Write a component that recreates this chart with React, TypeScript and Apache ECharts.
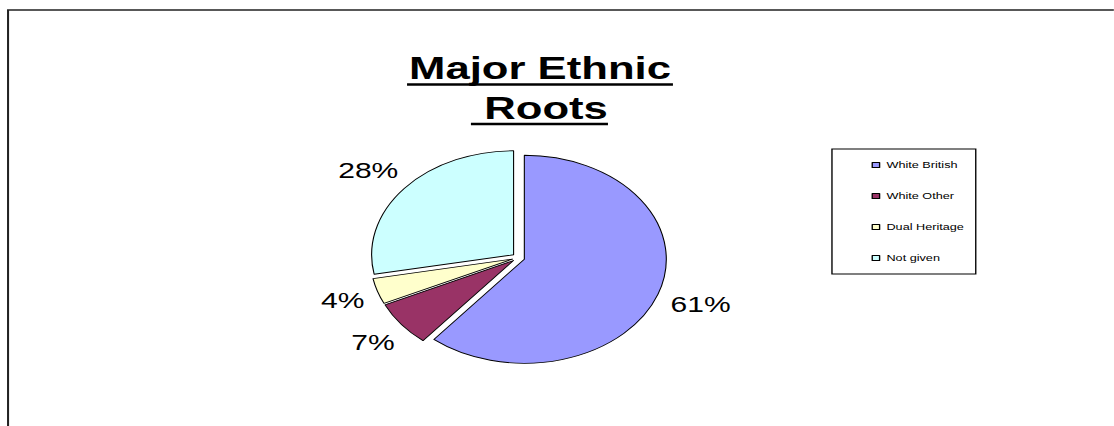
import React, { useEffect, useRef } from 'react';
import * as echarts from 'echarts';

// ---- data ----
const categories = ['White British', 'White Other', 'Dual Heritage', 'Not given'];
const values = [61, 7, 4, 28];
const colors = ['#9999FF', '#993366', '#FFFFCC', '#CCFFFF'];
const titleText = 'Major Ethnic\n Roots';

// ---- layout (chart is drawn in a horizontally compressed space, then stretched) ----
const STRETCH = 1.365;
const W = 1114 / STRETCH;
const H = 426;
const CX = 379.8;
const CY = 257.7;
const R = 104;
const FONT = 'Liberation Sans, Arial, Helvetica, sans-serif';

export default function App() {
  const ref = useRef<HTMLDivElement>(null);

  useEffect(() => {
    if (!ref.current) return;
    const chart = echarts.init(ref.current, null, { renderer: 'svg' });

    chart.setOption({
      animation: false,
      backgroundColor: '#fff',
      title: {
        text: titleText,
        left: 395.6,
        top: 48.5,
        padding: 0,
        textAlign: 'center',
        textStyle: {
          fontFamily: FONT,
          fontWeight: 'bold',
          fontSize: 32,
          lineHeight: 39.4,
          color: '#000',
        },
      },
      legend: {
        orient: 'vertical',
        left: 609.5,
        top: 149,
        padding: [10, 8.6, 10, 29],
        itemWidth: 5.4,
        itemHeight: 5,
        itemGap: 19,
        icon: 'rect',
        borderColor: '#000',
        borderWidth: 1,
        selectedMode: false,
        textStyle: { fontSize: 9.3, lineHeight: 12, fontFamily: FONT, color: '#000' },
        itemStyle: { borderColor: '#000', borderWidth: 1 },
        data: categories,
      },
      graphic: [
        {
          type: 'rect',
          shape: { x: 5.9, y: 10, width: 3000, height: 2000 },
          style: { fill: 'none', stroke: '#222', lineWidth: 1.5 },
          silent: true,
        },
        {
          type: 'line',
          shape: { x1: 298.2, y1: 84.5, x2: 493, y2: 84.5 },
          style: { stroke: '#000', lineWidth: 2.6 },
          silent: true,
        },
        {
          type: 'line',
          shape: { x1: 345, y1: 124, x2: 445.4, y2: 124 },
          style: { stroke: '#000', lineWidth: 2.6 },
          silent: true,
        },
      ],
      series: [
        {
          type: 'pie',
          center: [CX, CY],
          radius: R,
          startAngle: 90,
          clockwise: true,
          selectedMode: 'multiple',
          selectedOffset: 4.6,
          avoidLabelOverlap: false,
          emphasis: { disabled: true },
          itemStyle: { borderColor: '#000', borderWidth: 0.8 },
          select: { itemStyle: { borderColor: '#000', borderWidth: 0.8 } },
          label: {
            show: true,
            position: 'outside',
            fontSize: 22,
            fontFamily: FONT,
            color: '#000',
            distanceToLabelLine: -18,
            formatter: (p: any) => Math.round(p.percent) + '%',
          },
          labelLine: { show: false, length: 29, length2: 0 },
          data: categories.map((name, i) => ({
            name,
            value: values[i],
            selected: true,
            itemStyle: { color: colors[i] },
          })),
        },
      ],
    });

    return () => chart.dispose();
  }, []);

  return (
    <div
      ref={ref}
      style={{
        position: 'fixed',
        left: 0,
        top: 0,
        width: W + 'px',
        height: H + 'px',
        transform: `scaleX(${STRETCH})`,
        transformOrigin: '0 0',
      }}
    />
  );
}
